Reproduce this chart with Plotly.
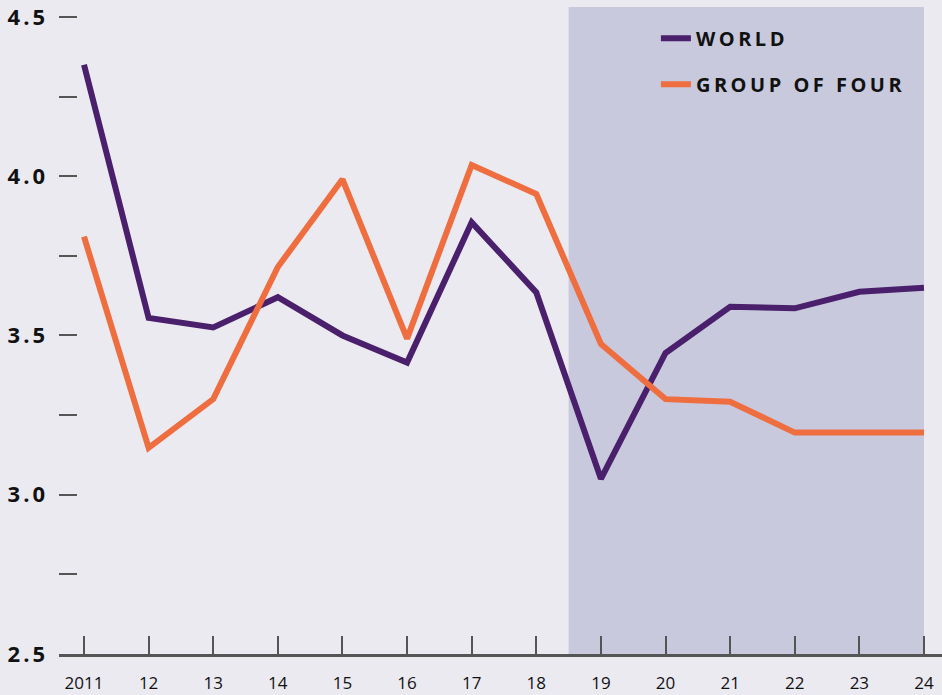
import plotly.graph_objects as go

years = list(range(2011, 2025))
tick_labels = ["2011", "12", "13", "14", "15", "16", "17", "18", "19", "20", "21", "22", "23", "24"]
world = [4.35, 3.555, 3.525, 3.62, 3.50, 3.415, 3.855, 3.635, 3.05, 3.445, 3.59, 3.585, 3.637, 3.65]
group_of_four = [3.81, 3.147, 3.30, 3.715, 3.99, 3.49, 4.035, 3.944, 3.473, 3.30, 3.292, 3.195, 3.195, 3.195]
y_tickvals = [2.5, 2.75, 3.0, 3.25, 3.5, 3.75, 4.0, 4.25, 4.5]
y_ticktext = ["2.5", "", "3.0", "", "3.5", "", "4.0", "", "4.5"]
series_names = ["WORLD", "GROUP OF FOUR"]
forecast_start = 2018.5
forecast_end = 2024

BG = "#ebeaf1"
SHADE = "#c8c9dc"
PURPLE = "#4a1f6b"
ORANGE = "#ef6e40"
AXIS = "#555555"
FONT = "Open Sans"


def spaced(t, px):
    return t if t == "" else f'<span style="letter-spacing:{px}px">{t}</span>'


fig = go.Figure()
fig.add_trace(go.Scatter(
    x=years, y=world, mode="lines", name=spaced(series_names[0], 3.5),
    line=dict(color=PURPLE, width=6), legendgroup="w"))
fig.add_trace(go.Scatter(
    x=years, y=group_of_four, mode="lines", name=spaced(series_names[1], 3.5),
    line=dict(color=ORANGE, width=6), legendgroup="g"))

fig.add_shape(type="rect", xref="x", yref="paper", x0=forecast_start, x1=forecast_end,
              y0=0, y1=1, fillcolor=SHADE, line_width=0, layer="below")

fig.update_layout(
    width=942, height=695,
    paper_bgcolor=BG, plot_bgcolor=BG,
    margin=dict(l=59, r=0, t=7, b=41),
    font=dict(family=FONT, color="#111111"),
    legend=dict(x=0.676, y=0.982, xanchor="left", yanchor="top",
                bgcolor="rgba(0,0,0,0)", tracegroupgap=17, traceorder="grouped",
                font=dict(family=FONT, size=20, weight="bold", color="#111111")),
    xaxis=dict(range=[2010.613, 2024.279], tickvals=years, ticktext=tick_labels,
               ticks="inside", ticklen=18, tickwidth=2, tickcolor=AXIS,
               showgrid=False, zeroline=False, showline=True, linecolor=AXIS, linewidth=2.5,
               tickfont=dict(family=FONT, size=17, color="#111111"), ticklabelstandoff=12),
    yaxis=dict(range=[2.5, 4.531], tickvals=y_tickvals,
               ticktext=[spaced(t, 3) for t in y_ticktext],
               ticks="inside", ticklen=18, tickwidth=2, tickcolor=AXIS,
               showgrid=False, zeroline=False, showline=False,
               tickfont=dict(family=FONT, size=22, weight="bold", color="#111111"),
               ticklabelstandoff=10),
)

fig.write_html("out.html", config={"displayModeBar": False},
               post_script="document.body.style.margin='0px';")
